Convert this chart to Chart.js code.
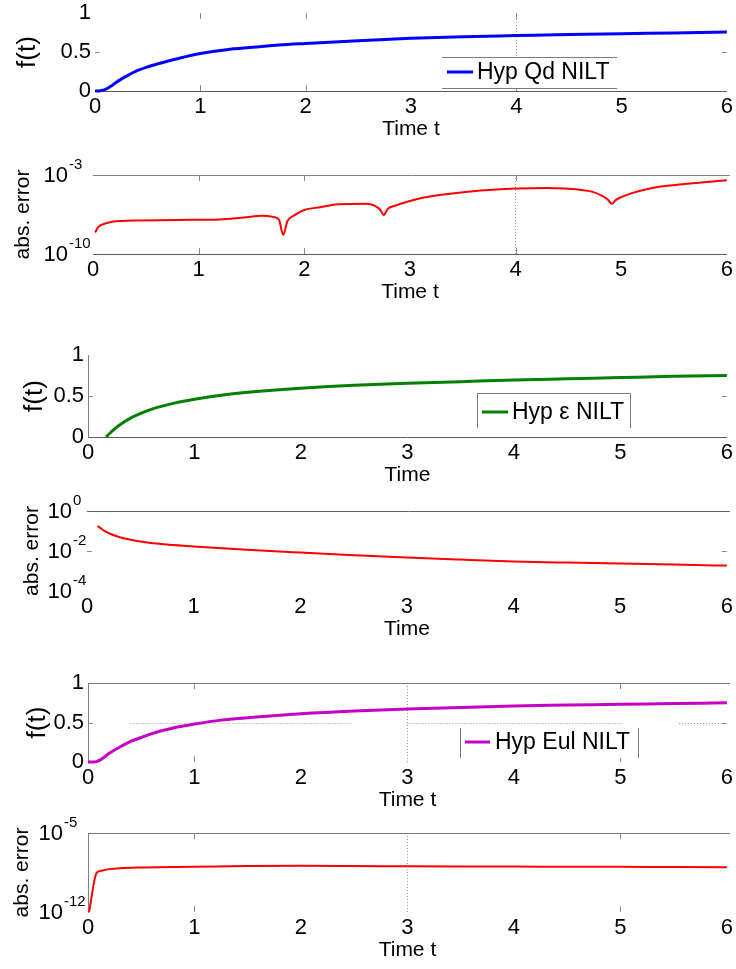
<!DOCTYPE html>
<html>
<head>
<meta charset="utf-8">
<script src="https://cdn.jsdelivr.net/npm/chart.js@4.4.1/dist/chart.umd.min.js"></script>
<style>
    html, body { margin: 0; padding: 0; background: #fff; }
    body { width: 736px; height: 969px; position: relative; overflow: hidden; }
    canvas { position: absolute; left: 0; }
</style>
</head>
<body>
<canvas id="p1"></canvas>
<canvas id="p2"></canvas>
<canvas id="p3"></canvas>
<canvas id="p4"></canvas>
<canvas id="p5"></canvas>
<canvas id="p6"></canvas>
<script>
/* ==========================
   DATA
========================== */
const timeTicks = [0, 1, 2, 3, 4, 5, 6];
const fTicks = [0, 0.5, 1];

// Hyp Qd NILT
const qdTime  = [0, 0.05, 0.1, 0.15, 0.2, 0.3, 0.4, 0.5, 0.6, 0.8, 1.0, 1.25, 1.5, 1.75, 2.0, 2.5, 3.0, 3.5, 4.0, 4.5, 5.0, 5.5, 6.0];
const qdValue = [0, 0.003, 0.02, 0.06, 0.11, 0.19, 0.26, 0.31, 0.35, 0.42, 0.48, 0.53, 0.56, 0.59, 0.61, 0.645, 0.675, 0.695, 0.71, 0.725, 0.735, 0.745, 0.755];
const qdErrTime = [0.02, 0.05, 0.1, 0.15, 0.25, 0.45, 0.8, 1.2, 1.4, 1.6, 1.7, 1.76, 1.8, 1.84, 1.9, 2.0, 2.15, 2.32, 2.59, 2.66, 2.72, 2.75, 2.79, 2.85, 3.0, 3.13, 3.3, 3.57, 4.02, 4.3, 4.46, 4.6, 4.73, 4.82, 4.87, 4.91, 4.95, 5.0, 5.1, 5.2, 5.36, 5.6, 6.0];
const qdError   = [7.9e-9, 2.5e-8, 4.5e-8, 6.3e-8, 8.3e-8, 9.5e-8, 1.05e-7, 1.15e-7, 1.6e-7, 2.4e-7, 2.0e-7, 1.1e-7, 5.0e-9, 7.9e-8, 2.5e-7, 7.9e-7, 1.4e-6, 2.5e-6, 2.8e-6, 2.0e-6, 7.9e-7, 2.8e-7, 1.0e-6, 1.8e-6, 5.0e-6, 1.0e-5, 1.8e-5, 3.5e-5, 6.3e-5, 7.1e-5, 6.3e-5, 5.0e-5, 3.2e-5, 1.4e-5, 7.1e-6, 2.8e-6, 6.3e-6, 1.1e-5, 2.5e-5, 4.5e-5, 8.9e-5, 1.6e-4, 3.5e-4];
const qdErrTicks = [1e-10, 1e-3];

// Hyp ε NILT
const epsTime  = [0.17, 0.2, 0.25, 0.3, 0.4, 0.5, 0.6, 0.8, 1.0, 1.25, 1.5, 2.0, 2.5, 3.0, 3.5, 4.0, 4.5, 5.0, 5.5, 6.0];
const epsValue = [0, 0.04, 0.1, 0.15, 0.23, 0.29, 0.34, 0.41, 0.46, 0.51, 0.545, 0.595, 0.63, 0.655, 0.675, 0.695, 0.71, 0.725, 0.74, 0.75];
const epsErrTime = [0.1, 0.15, 0.2, 0.3, 0.4, 0.5, 0.7, 1.0, 1.5, 2.0, 2.5, 3.0, 3.5, 4.0, 4.5, 5.0, 5.5, 6.0];
const epsError   = [0.178, 0.112, 0.0794, 0.0501, 0.0372, 0.0302, 0.0224, 0.017, 0.0115, 0.00832, 0.00617, 0.00468, 0.00372, 0.00302, 0.00263, 0.00234, 0.00209, 0.00186];
const epsErrTicks = [1e-4, 1e-2, 1];

// Hyp Eul NILT
const eulTime  = [0, 0.05, 0.08, 0.12, 0.16, 0.2, 0.3, 0.4, 0.5, 0.6, 0.8, 1.0, 1.25, 1.5, 2.0, 2.5, 3.0, 3.5, 4.0, 4.5, 5.0, 5.5, 6.0];
const eulValue = [0, 0, 0.005, 0.03, 0.07, 0.11, 0.19, 0.26, 0.31, 0.36, 0.43, 0.48, 0.53, 0.56, 0.61, 0.645, 0.67, 0.69, 0.71, 0.72, 0.73, 0.74, 0.75];
const eulErrTime = [0.01, 0.08, 0.12, 0.2, 0.3, 0.5, 1.0, 1.5, 2.0, 2.5, 3.0, 3.5, 4.0, 4.5, 5.0, 5.5, 6.0];
const eulError   = [1e-12, 2.8e-9, 4.5e-9, 6.3e-9, 7.6e-9, 8.7e-9, 1.0e-8, 1.17e-8, 1.26e-8, 1.2e-8, 1.12e-8, 1.07e-8, 1.05e-8, 1.02e-8, 1.0e-8, 9.5e-9, 9.3e-9];
const eulErrTicks = [1e-12, 1e-5];
const eulGridSegments = [[0.4, 2.47], [3.0, 5.02], [5.55, 5.97]];

/* ==========================
   LAYOUT
========================== */
const W = 736;
const RIGHT = 728;
const PAD_TOP = 25;
const X_AXIS_H = 56;
const FONT = "'Liberation Sans', Arial, Helvetica, sans-serif";

function seg(ctx, x1, y1, x2, y2) {
    ctx.beginPath();
    ctx.moveTo(x1, y1);
    ctx.lineTo(x2, y2);
    ctx.stroke();
}

/* ==========================
   PLUGIN - MATLAB LOOK
========================== */
const decorPlugin = {
    id: "decor",
    beforeDatasetsDraw(chart, args, o) {
        const { ctx, chartArea: a } = chart;
        const x = chart.scales.x, y = chart.scales.y;
        ctx.save();
        ctx.lineWidth = 1;

        if (o.frameTop) {
            ctx.strokeStyle = o.frameTop;
            seg(ctx, a.left, a.top + 0.5, a.right + 3, a.top + 0.5);
        }

        ctx.strokeStyle = "#8a8a8a";
        (o.xMarks || []).forEach(v => {
            const px = Math.round(x.getPixelForValue(v)) + 0.5;
            seg(ctx, px, a.top, px, a.top + 6);
            seg(ctx, px, a.bottom, px, a.bottom - 6);
        });
        (o.yMarks || []).forEach(v => {
            const py = Math.round(y.getPixelForValue(v)) + 0.5;
            seg(ctx, a.left, py, a.left + 5, py);
            seg(ctx, a.right - 5, py, a.right, py);
        });

        // partial dotted grid (scan leftovers)
        if (o.hSegments) {
            ctx.strokeStyle = "#9a9a9a";
            ctx.setLineDash([1, 2]);
            const py = Math.round(y.getPixelForValue(o.hValue)) + 0.5;
            o.hSegments.forEach(([t0, t1]) => seg(ctx, x.getPixelForValue(t0), py, x.getPixelForValue(t1), py));
            ctx.setLineDash([]);
        }
        ctx.restore();
    },
    afterDraw(chart, args, o) {
        const { ctx, chartArea: a } = chart;
        const y = chart.scales.y;
        ctx.save();

        // log tick labels: 10 with raised exponent
        if (o.logGap) {
            ctx.fillStyle = "#000";
            y.ticks.forEach(t => {
                const py = y.getPixelForValue(t.value);
                const e = Math.round(Math.log10(t.value));
                const xr = a.left - o.logGap;
                ctx.font = `22px ${FONT}`;
                ctx.textAlign = "right";
                ctx.textBaseline = "middle";
                ctx.fillText("10", xr, py + 1);
                ctx.font = `15px ${FONT}`;
                ctx.textAlign = "left";
                ctx.fillText(e === 0 ? "0" : "-" + Math.abs(e), xr + 1, py - 10);
            });
        }

        // legend box
        if (o.legend) {
            const L = o.legend, off = o.offset;
            const ly = L.y - off, lb = L.y2 - off, cy = L.cy - off;
            ctx.fillStyle = "#fff";
            ctx.fillRect(L.x, ly, L.x2 - L.x, lb - ly);
            ctx.strokeStyle = "#7a7a7a";
            ctx.lineWidth = 1;
            if (L.sides.includes("t")) seg(ctx, L.x, ly + 0.5, L.x2, ly + 0.5);
            if (L.sides.includes("b")) seg(ctx, L.x, lb + 0.5, L.x2, lb + 0.5);
            if (L.sides.includes("l")) seg(ctx, L.x + 0.5, ly, L.x + 0.5, lb);
            if (L.sides.includes("r")) seg(ctx, L.x2 + 0.5, ly, L.x2 + 0.5, lb);

            const ds = chart.data.datasets[0];
            ctx.strokeStyle = ds.borderColor;
            ctx.lineWidth = ds.borderWidth;
            seg(ctx, L.sx, cy, L.sx2, cy);
            ctx.fillStyle = "#000";
            ctx.font = `23px ${FONT}`;
            ctx.textAlign = "left";
            ctx.textBaseline = "middle";
            ctx.fillText(ds.label, L.tx, cy + 1);
        }
        ctx.restore();
    }
};

/* ==========================
   PANELS
========================== */
const panels = [
    {
        id: "p1", L: 95, T: 13, B: 91, label: "Hyp Qd NILT", color: "#0000ff", width: 3,
        xs: qdTime, ys: qdValue, yType: "linear", yMin: 0, yMax: 1, yTicks: fTicks,
        xTitle: "Time t", yTitle: "f(t)", yTitleSize: 26, yTitlePad: 12.4,
        xGrid: [4], frameBottom: true, frameLeft: false,
        decor: {
            xMarks: [1, 2, 4], yMarks: [0.5],
            legend: { x: 442, x2: 617, y: 57, y2: 88, cy: 72, sx: 447, sx2: 473, tx: 477, sides: "tb" }
        }
    },
    {
        id: "p2", L: 93, T: 175, B: 254, label: "error", color: "#ff0000", width: 2,
        xs: qdErrTime, ys: qdError, yType: "logarithmic", yMin: 1e-10, yMax: 1e-3, yTicks: qdErrTicks,
        xTitle: "Time t", yTitle: "abs. error", yTitleSize: 21, yTitlePad: 10.4,
        xGrid: [4], frameBottom: true, frameLeft: false,
        decor: { frameTop: "#808080", xMarks: [1, 2, 4], logGap: 25 }
    },
    {
        id: "p3", L: 88, T: 355, B: 437, label: "Hyp \u03b5 NILT", color: "#008000", width: 3,
        xs: epsTime, ys: epsValue, yType: "linear", yMin: 0, yMax: 1, yTicks: fTicks,
        xTitle: "Time", yTitle: "f(t)", yTitleSize: 26, yTitlePad: 19.4,
        xGrid: [], frameBottom: true, frameLeft: true,
        decor: {
            yMarks: [0.5],
            legend: { x: 477, x2: 630, y: 393, y2: 428, cy: 412, sx: 482, sx2: 508, tx: 512, sides: "tlr" }
        }
    },
    {
        id: "p4", L: 87, T: 511, B: 591, label: "error", color: "#ff0000", width: 2,
        xs: epsErrTime, ys: epsError, yType: "logarithmic", yMin: 1e-4, yMax: 1, yTicks: epsErrTicks,
        xTitle: "Time", yTitle: "abs. error", yTitleSize: 21, yTitlePad: 19.4,
        xGrid: [], frameBottom: false, frameLeft: false,
        decor: { frameTop: "#606060", yMarks: [1e-2], logGap: 15 }
    },
    {
        id: "p5", L: 88, T: 683, B: 762, label: "Hyp Eul NILT", color: "#c400c4", width: 3,
        xs: eulTime, ys: eulValue, yType: "linear", yMin: 0, yMax: 1, yTicks: fTicks,
        xTitle: "Time t", yTitle: "f(t)", yTitleSize: 26, yTitlePad: 22.4,
        xGrid: [3], frameBottom: false, frameLeft: true,
        decor: {
            frameTop: "#7a7a7a", xMarks: [1, 5], yMarks: [0.5],
            hValue: 0.5, hSegments: eulGridSegments,
            legend: { x: 460, x2: 638, y: 728, y2: 758, cy: 742, sx: 465, sx2: 490, tx: 495, sides: "lr" }
        }
    },
    {
        id: "p6", L: 88, T: 833, B: 912, label: "error", color: "#ff0000", width: 2,
        xs: eulErrTime, ys: eulError, yType: "logarithmic", yMin: 1e-12, yMax: 1e-5, yTicks: eulErrTicks,
        xTitle: "Time t", yTitle: "abs. error", yTitleSize: 21, yTitlePad: 9.4,
        xGrid: [3], frameBottom: false, frameLeft: true,
        decor: { frameTop: "#7a7a7a", xMarks: [1, 5], logGap: 25 }
    }
];

function buildChart(p) {
    const cv = document.getElementById(p.id);
    const top = p.T - PAD_TOP;
    cv.width = W;
    cv.height = (p.B - p.T) + PAD_TOP + X_AXIS_H;
    cv.style.top = top + "px";
    const isLog = p.yType === "logarithmic";

    return new Chart(cv, {
        type: "line",
        data: {
            datasets: [{
                label: p.label,
                data: p.xs.map((t, i) => ({ x: t, y: p.ys[i] })),
                borderColor: p.color,
                borderWidth: p.width,
                pointRadius: 0,
                cubicInterpolationMode: "monotone",
                fill: false,
                clip: false
            }]
        },
        options: {
            responsive: false,
            animation: false,
            events: [],
            layout: { padding: { top: PAD_TOP, left: 0, right: W - RIGHT, bottom: 0 } },
            plugins: {
                legend: { display: false },
                tooltip: { enabled: false },
                decor: Object.assign({ offset: top }, p.decor)
            },
            scales: {
                x: {
                    type: "linear",
                    min: 0,
                    max: 6,
                    afterBuildTicks: s => { s.ticks = timeTicks.map(v => ({ value: v })); },
                    afterFit: s => { s.height = X_AXIS_H; },
                    ticks: {
                        color: "#000",
                        font: { family: FONT, size: 22 },
                        padding: 3,
                        maxRotation: 0,
                        autoSkip: false,
                        callback: v => String(v)
                    },
                    grid: {
                        drawTicks: false,
                        lineWidth: 1,
                        color: c => (c.tick && p.xGrid.includes(c.tick.value) ? "#9a9a9a" : "rgba(0,0,0,0)")
                    },
                    border: { display: p.frameBottom, color: "#5a5a5a", width: 1, dash: [1, 2] },
                    title: {
                        display: true,
                        text: p.xTitle,
                        color: "#000",
                        font: { family: FONT, size: 21 },
                        padding: { top: 0, bottom: 5.4 }
                    }
                },
                y: {
                    type: p.yType,
                    min: p.yMin,
                    max: p.yMax,
                    afterBuildTicks: s => { s.ticks = p.yTicks.map(v => ({ value: v })); },
                    afterFit: s => { s.width = p.L; },
                    ticks: {
                        display: !isLog,
                        color: "#000",
                        font: { family: FONT, size: 22 },
                        padding: 4,
                        callback: v => String(v)
                    },
                    grid: { display: false, drawTicks: false },
                    border: { display: p.frameLeft, color: "#808080", width: 1 },
                    title: {
                        display: true,
                        text: p.yTitle,
                        color: "#000",
                        font: { family: FONT, size: p.yTitleSize },
                        padding: { top: p.yTitlePad, bottom: 0 }
                    }
                }
            }
        },
        plugins: [decorPlugin]
    });
}

const charts = panels.map(buildChart);
</script>
</body>
</html>
